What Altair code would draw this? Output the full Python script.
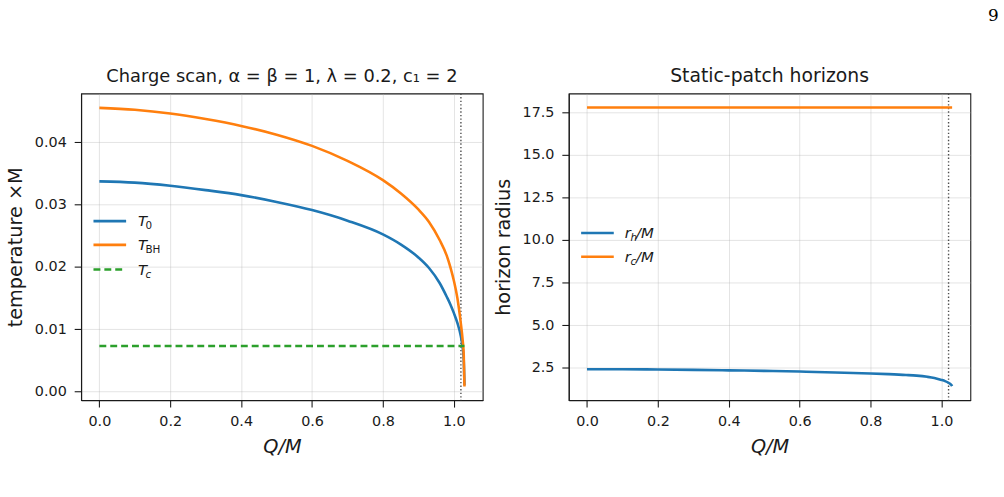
import altair as alt
import pandas as pd

# Charge grid Q/M and the two temperature curves (in units of 1/M)
q = [0.0, 0.1, 0.2, 0.3, 0.4, 0.5, 0.6, 0.7, 0.8, 0.85, 0.9, 0.93, 0.96,
     0.98, 0.99, 1.0, 1.01, 1.02, 1.025, 1.028, 1.03]
t_0 = [0.0337, 0.0335, 0.0330, 0.0323, 0.0315, 0.0304, 0.0291, 0.0274, 0.0252,
       0.0236, 0.0215, 0.0198, 0.0174, 0.0152, 0.0140, 0.0126, 0.0110, 0.0088,
       0.0070, 0.0050, 0.0010]
t_bh = [0.0455, 0.0452, 0.0446, 0.0437, 0.0426, 0.0412, 0.0394, 0.0370, 0.0339,
        0.0318, 0.0292, 0.0272, 0.0243, 0.0218, 0.0200, 0.0178, 0.0150, 0.0108,
        0.0082, 0.0058, 0.0008]

# Constant critical temperature and cosmological horizon across the scan
q_ends = [0.0, 1.03]
t_c = [0.0073, 0.0073]
r_c = [17.78, 17.78]

# Black-hole horizon radius r_h/M on the same charge grid
r_h = [2.42, 2.42, 2.40, 2.38, 2.35, 2.32, 2.28, 2.23, 2.17, 2.13, 2.08, 2.04,
       1.97, 1.90, 1.85, 1.79, 1.72, 1.62, 1.55, 1.49, 1.42]

# Extremal charge marker
q_ext = [1.02]

x_ticks = [0.0, 0.2, 0.4, 0.6, 0.8, 1.0]
t_ticks = [0.0, 0.01, 0.02, 0.03, 0.04]
r_ticks = [2.5, 5.0, 7.5, 10.0, 12.5, 15.0, 17.5]

BLUE, ORANGE, GREEN = "#1f77b4", "#ff7f0e", "#2ca02c"
INK = "#1a1a1a"
W, H = 406, 310
LW = 2.6

temps = pd.DataFrame({"q": q, "t0": t_0, "tbh": t_bh, "rh": r_h})
flat = pd.DataFrame({"q": q_ends, "tc": t_c, "rc": r_c})
ext = pd.DataFrame({"q": q_ext})

x_enc = alt.X(
    "q:Q",
    scale=alt.Scale(domain=[-0.0515, 1.0815], nice=False, zero=False),
    axis=alt.Axis(values=x_ticks, format=".1f", title="Q/M", titleFontStyle="italic"),
)


def line(df, field, color, y_scale, y_axis, dash=None):
    kw = {"color": color, "strokeWidth": LW, "clip": True, "interpolate": "monotone"}
    if dash:
        kw["strokeDash"] = dash
    return alt.Chart(df).mark_line(**kw).encode(
        x=x_enc, y=alt.Y(f"{field}:Q", scale=y_scale, axis=y_axis)
    )


def legend_entry(y, color, parts, dash=None):
    """One hand-placed legend row: a short line sample followed by text pieces."""
    one = alt.Data(values=[{}])
    rule_kw = {"color": color, "strokeWidth": LW}
    if dash:
        rule_kw["strokeDash"] = dash
    layers = [
        alt.Chart(one).mark_rule(**rule_kw).encode(
            x=alt.value(12.5), x2=alt.value(45.5), y=alt.value(y)
        )
    ]
    for text, dx, dy, size, style in parts:
        layers.append(
            alt.Chart(one).mark_text(
                text=text, align="left", baseline="middle", fontSize=size,
                font="DejaVu Sans", fontStyle=style, color=INK,
            ).encode(x=alt.value(dx), y=alt.value(y + dy))
        )
    return layers


vline_kw = {"color": "#4d4d4d", "strokeWidth": 1.4, "strokeDash": [1.4, 2.2]}

# Left panel: temperatures
t_scale = alt.Scale(domain=[-0.0014, 0.0478], nice=False, zero=False)
t_axis = alt.Axis(values=t_ticks, format=".2f", title="temperature ×M")
left_layers = [
    alt.Chart(ext).mark_rule(**vline_kw).encode(x=x_enc),
    line(temps, "t0", BLUE, t_scale, t_axis),
    line(temps, "tbh", ORANGE, t_scale, t_axis),
    line(flat, "tc", GREEN, t_scale, t_axis, dash=[7, 4]),
]
left_layers += legend_entry(129, BLUE, [("T", 57.5, 0, 15, "italic"),
                                        ("0", 65, 5, 10.5, "normal")])
left_layers += legend_entry(153, ORANGE, [("T", 57.5, 0, 15, "italic"),
                                          ("BH", 65, 5, 10.5, "normal")])
left_layers += legend_entry(178, GREEN, [("T", 57.5, 0, 15, "italic"),
                                         ("c", 65, 5, 10.5, "italic")], dash=[7, 4])

left = alt.layer(*left_layers).properties(
    width=W, height=H,
    title=alt.TitleParams("Charge scan, α = β = 1, λ = 0.2, c₁ = 2", fontSize=18),
)

# Right panel: horizon radii
r_scale = alt.Scale(domain=[0.602, 18.598], nice=False, zero=False)
r_axis = alt.Axis(values=r_ticks, format=".1f", title="horizon radius")
right_layers = [
    alt.Chart(ext).mark_rule(**vline_kw).encode(x=x_enc),
    line(temps, "rh", BLUE, r_scale, r_axis),
    line(flat, "rc", ORANGE, r_scale, r_axis),
]
right_layers += legend_entry(141, BLUE, [("r", 56.7, 0, 15, "italic"),
                                         ("h", 62.5, 5, 10.5, "italic"),
                                         ("/M", 68, 0, 15, "italic")])
right_layers += legend_entry(165, ORANGE, [("r", 56.7, 0, 15, "italic"),
                                           ("c", 62.5, 5, 10.5, "italic"),
                                           ("/M", 68, 0, 15, "italic")])

right = alt.layer(*right_layers).properties(
    width=W, height=H,
    title=alt.TitleParams("Static-patch horizons", fontSize=19),
)

chart = (
    alt.hconcat(left, right, spacing=9)
    .properties(
        title=alt.TitleParams(
            "9", anchor="end", font="DejaVu Serif", fontSize=17,
            fontWeight="normal", color="#000000", offset=42, dx=28,
        ),
        padding={"left": 5, "top": 4, "right": 5, "bottom": 5},
        background="white",
    )
    .configure_view(stroke=INK, strokeWidth=1.1)
    .configure_title(font="DejaVu Sans", fontSize=19, fontWeight="normal",
                     color=INK, offset=7)
    .configure_axis(
        labelFont="DejaVu Sans", labelFontSize=14.5, labelColor=INK,
        titleFont="DejaVu Sans", titleFontSize=19.5, titleFontWeight="normal",
        titleColor=INK, tickSize=7, tickColor=INK, tickWidth=1.1,
        labelPadding=8, titlePadding=9, domainColor=INK, domainWidth=1.1,
        gridColor="#b0b0b0", gridOpacity=0.35, gridWidth=1,
    )
)

chart.save("out.html", embed_options={"renderer": "svg", "actions": False})
